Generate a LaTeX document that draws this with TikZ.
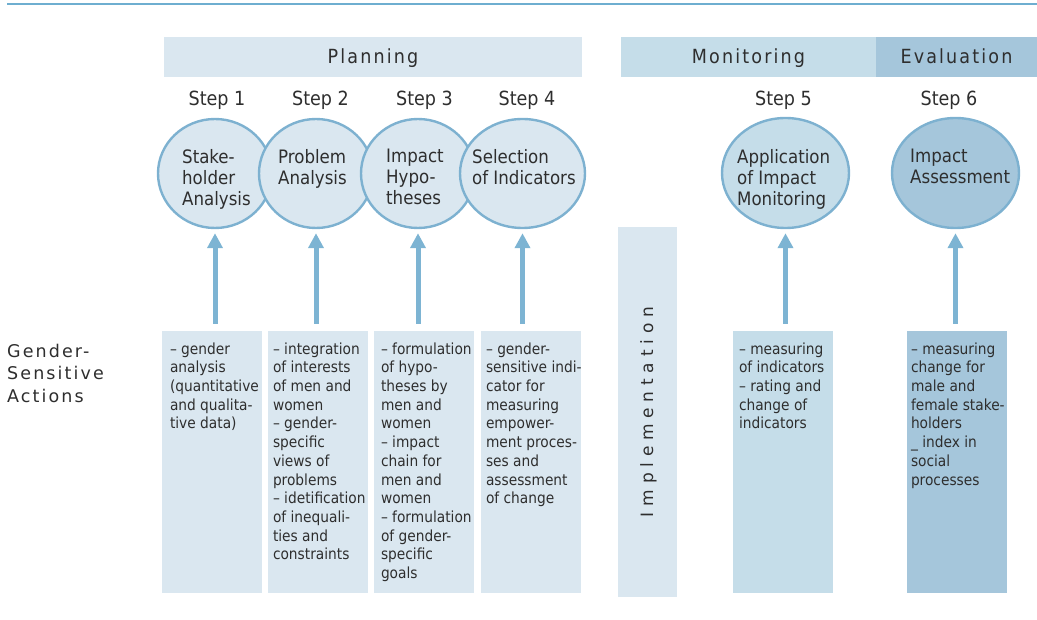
\documentclass[tikz,border=0pt]{standalone}
\usepackage{fontspec}
\usetikzlibrary{arrows.meta,shapes.geometric}
\setmainfont{DejaVu Sans}
\newfontfamily\condf{DejaVu Sans Condensed}
\newfontfamily\headf[LetterSpace=11]{DejaVu Sans Condensed}
\newfontfamily\widef[LetterSpace=12]{DejaVu Sans}
\newfontfamily\implf[LetterSpace=34]{DejaVu Sans}
\definecolor{pale}{HTML}{DAE7F0}
\definecolor{mid}{HTML}{C5DDE9}
\definecolor{dark}{HTML}{A5C6DB}
\definecolor{edgec}{HTML}{7DB1D0}
\definecolor{arrowc}{HTML}{7DB4D3}
\definecolor{linec}{HTML}{6EAED0}
\definecolor{txt}{HTML}{2E2E2E}
\begin{document}
\begin{tikzpicture}[x=1pt,y=-1pt,
  ell/.style={ellipse, draw=edgec, line width=2.4pt, inner sep=0pt},
  bar/.style={rectangle, inner sep=0pt, minimum height=40pt, text height=14pt, text depth=0pt, text=txt, font=\headf\fontsize{19.5}{22}\selectfont},
  col/.style={rectangle, inner sep=0pt, minimum width=100pt, minimum height=262pt},
  ctext/.style={anchor=north west, inner sep=0pt, align=left, text=txt, font=\condf\fontsize{18.5}{21}\selectfont},
  btext/.style={anchor=north west, inner sep=0pt, align=left, text=txt, font=\condf\fontsize{15.3}{18.7}\selectfont},
  steplab/.style={anchor=base, inner sep=0pt, text=txt, font=\condf\fontsize{19.5}{22}\selectfont},
  arr/.style={draw=arrowc, line width=5pt, -{Triangle[width=15pt,length=15pt]}, shorten >=4pt}
]
\useasboundingbox (0,0) rectangle (1037,620);
% top rule
\draw[linec, line width=1.5pt] (7,4) -- (1037,4);
% header bars
\node[bar, fill=pale, minimum width=418pt] (plan) at (373,57) {Planning};
\node[bar, fill=mid, minimum width=255pt] (mon) at (748.5,57) {Monitoring};
\node[bar, fill=dark, minimum width=161pt] (eval) at (956.5,57) {Evaluation};
% step labels
\node[steplab] (s1) at (217,106) {Step 1};
\node[steplab] (s2) at (320.5,106) {Step 2};
\node[steplab] (s3) at (424.5,106) {Step 3};
\node[steplab] (s4) at (527,106) {Step 4};
\node[steplab] (s5) at (783.5,106) {Step 5};
\node[steplab] (s6) at (949,106) {Step 6};
% ellipses
\node[ell, fill=pale, minimum width=114pt, minimum height=109pt] (c1) at (215,173.5) {};
\node[ell, fill=pale, minimum width=114pt, minimum height=109pt] (c2) at (316,173.5) {};
\node[ell, fill=pale, minimum width=114pt, minimum height=109pt] (c3) at (418,173.5) {};
\node[ell, fill=pale, minimum width=125pt, minimum height=109pt] (c4) at (522.5,173.5) {};
\node[ell, fill=mid, minimum width=127pt, minimum height=110pt] (c5) at (785.5,173) {};
\node[ell, fill=dark, minimum width=127pt, minimum height=110pt] (c6) at (955.5,173) {};
% ellipse texts
\node[ctext] (t1) at (182,149) {Stake-\\holder\\Analysis};
\node[ctext] (t2) at (278,149) {Problem\\Analysis};
\node[ctext] (t3) at (386,149) {Impact\\Hypo-\\theses};
\node[ctext] (t4) at (472,149) {Selection\\of Indicators};
\node[ctext] (t5) at (737,149) {Application\\of Impact\\Monitoring};
\node[ctext] (t6) at (910,149) {Impact\\Assessment};
% columns
\node[col, fill=pale] (b1) at (212,462) {};
\node[col, fill=pale] (b2) at (318,462) {};
\node[col, fill=pale] (b3) at (424,462) {};
\node[col, fill=pale] (b4) at (531,462) {};
\node[col, fill=mid] (b5) at (783,462) {};
\node[col, fill=dark] (b6) at (957,462) {};
\node[rectangle, inner sep=0pt, fill=pale, minimum width=59pt, minimum height=370pt] (impl) at (647.5,412) {};
\node[rotate=90, inner sep=0pt, text=txt, font=\implf\fontsize{17}{20}\selectfont] (implt) at ([xshift=1pt]impl.center) {Implementation};
% column texts
\node[btext] (bt1) at ([xshift=8pt,yshift=-11.5pt]b1.north west) {– gender\\analysis\\(quantitative\\and qualita-\\tive data)};
\node[btext] (bt2) at ([xshift=5pt,yshift=-11.5pt]b2.north west) {– integration\\of interests\\of men and\\women\\– gender-\\specific\\views of\\problems\\– idetification\\of inequali-\\ties and\\constraints};
\node[btext] (bt3) at ([xshift=7pt,yshift=-11.5pt]b3.north west) {– formulation\\of hypo-\\theses by\\men and\\women\\– impact\\chain for\\men and\\women\\– formulation\\of gender-\\specific\\goals};
\node[btext] (bt4) at ([xshift=5pt,yshift=-11.5pt]b4.north west) {– gender-\\sensitive indi-\\cator for\\measuring\\empower-\\ment proces-\\ses and\\assessment\\of change};
\node[btext] (bt5) at ([xshift=6pt,yshift=-11.5pt]b5.north west) {– measuring\\of indicators\\– rating and\\change of\\indicators};
\node[btext] (bt6) at ([xshift=4pt,yshift=-11.5pt]b6.north west) {– measuring\\change for\\male and\\female stake-\\holders\\\_ index in\\social\\processes};
% left label
\node[anchor=north west, inner sep=0pt, align=left, text=txt, font=\widef\fontsize{17.5}{22.5}\selectfont] (gsa) at (7,344) {Gender-\\Sensitive\\Actions};
% arrows
\draw[arr] ([yshift=7pt]c1.south |- b1.north) -- (c1.south);
\draw[arr] ([yshift=7pt]c2.south |- b2.north) -- (c2.south);
\draw[arr] ([yshift=7pt]c3.south |- b3.north) -- (c3.south);
\draw[arr] ([yshift=7pt]c4.south |- b4.north) -- (c4.south);
\draw[arr] ([yshift=7pt]c5.south |- b5.north) -- (c5.south);
\draw[arr] ([yshift=7pt]c6.south |- b6.north) -- (c6.south);
\end{tikzpicture}
\end{document}
